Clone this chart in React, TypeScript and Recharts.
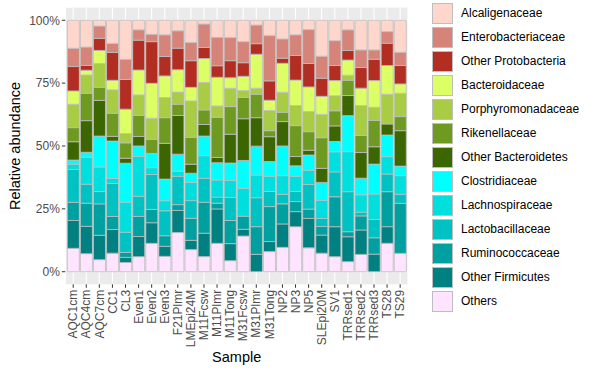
import { BarChart, Bar, XAxis, YAxis, CartesianGrid } from 'recharts';

const samples = [
  'AQC1cm', 'AQC4cm', 'AQC7cm', 'CC1', 'CL3', 'Even1', 'Even2', 'Even3', 'F21Plmr', 'LMEpi24M',
  'M11Fcsw', 'M11Plmr', 'M11Tong', 'M31Fcsw', 'M31Plmr', 'M31Tong', 'NP2', 'NP3', 'NP5', 'SLEpi20M',
  'SV1', 'TRRsed1', 'TRRsed2', 'TRRsed3', 'TS28', 'TS29',
];

// legend order, top of the stack first
const families = [
  'Alcaligenaceae', 'Enterobacteriaceae', 'Other Protobacteria', 'Bacteroidaceae', 'Porphyromonadaceae',
  'Rikenellaceae', 'Other Bacteroidetes', 'Clostridiaceae', 'Lachnospiraceae', 'Lactobacillaceae',
  'Ruminococcaceae', 'Other Firmicutes', 'Others',
];

const familyColors = [
  '#FFD6CC', '#D6847A', '#B22E22', '#DDFF66', '#A8CC44', '#6E9A22', '#3C6600',
  '#00FFFF', '#00DEDE', '#00C2C2', '#00A0A0', '#008080', '#FFE4FF',
];

// relative abundance (%) per sample, same order as samples
const alcaligenaceae = [11.1, 10.7, 2.3, 9.2, 15.5, 3.8, 5.6, 5.8, 4.2, 8.8, 1.5, 6.8, 6.9, 8.5, 1.9, 6.1, 7.4, 5.8, 3.7, 14.3, 8.1, 3.8, 11.8, 11.8, 4.5, 12.7];
const enterobacteriaceae = [7.3, 7.3, 4.9, 3.6, 8.0, 4.1, 2.9, 8.6, 6.9, 7.3, 9.3, 11.3, 9.2, 8.4, 7.4, 18.0, 7.7, 8.2, 13.5, 8.8, 9.9, 8.2, 7.0, 3.7, 4.6, 5.3];
const otherProtobacteria = [9.7, 1.9, 4.8, 11.1, 11.8, 11.9, 16.6, 7.7, 8.6, 10.6, 4.4, 4.6, 6.8, 5.4, 4.2, 7.7, 2.0, 9.8, 9.3, 7.2, 6.0, 3.8, 8.2, 8.5, 8.9, 7.3];
const bacteroidaceae = [5.3, 1.9, 5.2, 3.8, 9.7, 9.9, 13.9, 8.6, 8.9, 5.4, 9.5, 11.4, 4.2, 5.7, 13.5, 4.1, 11.5, 10.1, 9.8, 7.2, 6.0, 6.0, 6.9, 10.6, 11.4, 3.7];
const porphyromonadaceae = [9.3, 7.3, 9.5, 9.3, 3.7, 8.1, 8.4, 8.0, 4.8, 14.5, 10.9, 4.5, 7.3, 2.7, 2.4, 8.0, 8.0, 8.0, 8.0, 9.3, 6.0, 2.0, 11.9, 5.2, 11.8, 9.3];
const rikenellaceae = [5.6, 10.9, 5.2, 9.2, 6.1, 8.4, 5.6, 10.2, 4.5, 10.7, 5.8, 16.0, 11.0, 8.5, 9.3, 2.4, 3.7, 12.3, 7.4, 12.2, 6.0, 6.1, 6.8, 10.5, 0, 5.6];
const otherBacteroidetes = [7.3, 12.6, 14.2, 1.9, 2.0, 3.8, 0, 14.2, 15.4, 3.6, 4.6, 2.1, 11.5, 16.6, 11.3, 9.9, 9.7, 3.7, 1.9, 5.6, 6.2, 8.0, 10.2, 6.9, 4.4, 14.1];
const clostridiaceae = [1.7, 2.0, 12.3, 14.9, 15.5, 4.1, 5.7, 8.6, 6.8, 3.7, 7.8, 6.9, 6.9, 11.1, 11.5, 5.8, 11.8, 4.1, 6.1, 7.2, 4.1, 14.3, 6.6, 11.9, 8.6, 3.8];
const lachnospiraceae = [2.0, 10.7, 9.8, 2.0, 11.9, 15.9, 2.7, 4.0, 2.0, 7.2, 9.0, 6.8, 6.8, 11.1, 9.0, 6.1, 7.4, 6.1, 5.6, 7.2, 8.0, 15.9, 6.9, 10.1, 6.9, 7.4];
const lactobacillaceae = [13.1, 7.6, 4.9, 13.1, 8.0, 8.0, 13.9, 9.9, 11.3, 7.0, 9.5, 2.4, 9.2, 0, 11.5, 6.0, 3.8, 4.0, 9.8, 3.2, 9.9, 15.9, 1.5, 7.3, 7.0, 3.6];
const ruminococcaceae = [7.2, 9.2, 12.5, 5.2, 2.0, 8.0, 5.3, 4.2, 2.3, 8.8, 12.3, 2.3, 9.2, 5.2, 11.0, 13.9, 8.0, 4.0, 3.7, 3.4, 11.9, 2.0, 5.6, 6.5, 13.9, 19.9];
const otherFirmicutes = [11.1, 10.9, 9.7, 9.4, 2.0, 8.0, 8.2, 4.0, 8.8, 3.7, 9.3, 13.7, 6.8, 2.7, 6.9, 4.0, 9.3, 6.0, 11.7, 7.2, 11.9, 9.9, 9.7, 7.0, 6.6, 0];
const others = [9.3, 7.2, 4.8, 7.4, 3.7, 6.0, 11.3, 6.1, 15.6, 8.8, 6.0, 11.3, 4.4, 14.2, 0, 8.0, 9.7, 17.9, 9.5, 7.4, 6.0, 4.0, 6.9, 0, 11.3, 7.3];

const familyValues = [
  alcaligenaceae, enterobacteriaceae, otherProtobacteria, bacteroidaceae, porphyromonadaceae,
  rikenellaceae, otherBacteroidetes, clostridiaceae, lachnospiraceae, lactobacillaceae,
  ruminococcaceae, otherFirmicutes, others,
];

const yTicks = [0, 0.25, 0.5, 0.75, 1];
const yMinor = [0.125, 0.375, 0.625, 0.875];

// position = "fill": each sample is scaled to a total of 1
const chartData = samples.map((sample, i) => {
  const total = familyValues.reduce((acc, vals) => acc + vals[i], 0);
  const row: Record<string, any> = { sample };
  families.forEach((f, j) => {
    row[f] = familyValues[j][i] / total;
  });
  return row;
});

const FONT = '"Liberation Sans", Arial, sans-serif';

const SampleTick = ({ x, y, payload }: any) => (
  <text
    x={x}
    y={y}
    transform={`rotate(-90 ${x} ${y})`}
    textAnchor="end"
    dy="0.35em"
    fontSize={12}
    fill="#4D4D4D"
    fontFamily={FONT}
  >
    {payload.value}
  </text>
);

export default function App() {
  // bottom of the stack is drawn first
  const stackOrder = families.map((f, j) => ({ name: f, color: familyColors[j] })).reverse();

  return (
    <div style={{ position: 'absolute', left: 0, top: 0, width: 600, height: 375, background: '#fff', fontFamily: FONT }}>
      <BarChart
        width={600}
        height={375}
        data={chartData}
        barCategoryGap="5%"
        margin={{ top: 7.7, right: 192, bottom: 0, left: 0 }}
      >
        <CartesianGrid fill="#EBEBEB" stroke="#FFFFFF" strokeWidth={0.55} vertical={false} horizontalValues={yMinor} />
        <CartesianGrid stroke="#FFFFFF" strokeWidth={1.1} horizontalValues={yTicks} />
        <XAxis
          dataKey="sample"
          type="category"
          interval={0}
          height={90.7}
          padding={{ left: 1.3, right: 1.3 }}
          axisLine={false}
          tickSize={3.5}
          tickMargin={2}
          tickLine={{ stroke: '#333333' }}
          tick={<SampleTick />}
        />
        <YAxis
          type="number"
          width={65.35}
          domain={[-0.05, 1.05]}
          allowDataOverflow
          ticks={yTicks}
          tickFormatter={(v: number) => `${Math.round(v * 100)}%`}
          axisLine={false}
          tickSize={3.5}
          tickMargin={2}
          tickLine={{ stroke: '#333333' }}
          tick={{ fontSize: 12, fill: '#4D4D4D', fontFamily: FONT }}
        />
        {stackOrder.map((s) => (
          <Bar
            key={s.name}
            dataKey={s.name}
            stackId="a"
            fill={s.color}
            stroke="#BEBEBE"
            strokeWidth={0.8}
            isAnimationActive={false}
          />
        ))}
      </BarChart>

      <div
        style={{
          position: 'absolute',
          left: 15,
          top: 146,
          transform: 'translate(-50%, -50%) rotate(-90deg)',
          fontSize: 14.5,
          whiteSpace: 'nowrap',
          color: '#000',
        }}
      >
        Relative abundance
      </div>
      <div
        style={{
          position: 'absolute',
          left: 236.7,
          top: 357,
          transform: 'translate(-50%, -50%)',
          fontSize: 14.5,
          whiteSpace: 'nowrap',
          color: '#000',
        }}
      >
        Sample
      </div>

      {families.map((f, j) => (
        <div key={f} style={{ position: 'absolute', left: 431.5, top: 2.3 + j * 24, height: 22, display: 'flex', alignItems: 'center' }}>
          <div style={{ width: 21, height: 21, boxSizing: 'border-box', background: familyColors[j], border: '1px solid #BEBEBE' }} />
          <span style={{ marginLeft: 8.5, fontSize: 12, color: '#000', whiteSpace: 'nowrap' }}>{f}</span>
        </div>
      ))}
    </div>
  );
}
